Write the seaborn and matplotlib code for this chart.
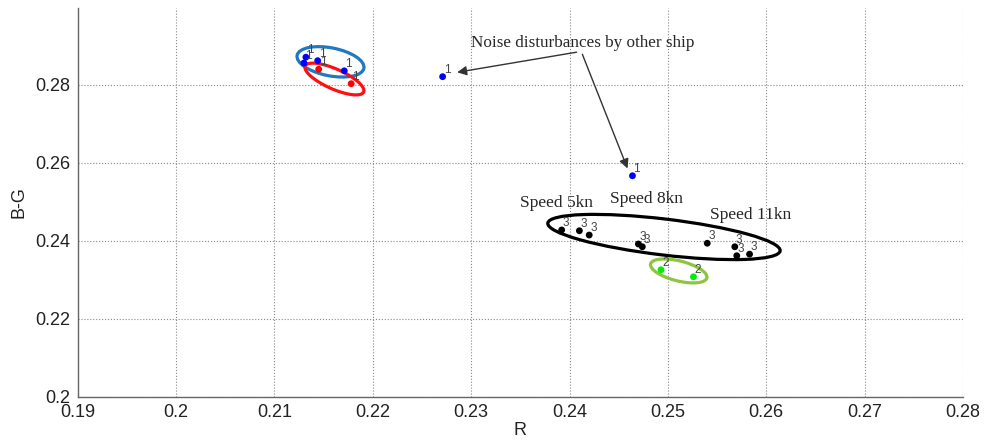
import matplotlib
matplotlib.use('Agg')
import matplotlib.pyplot as plt
import matplotlib.transforms as mtransforms
from matplotlib.patches import Ellipse
import seaborn as sns
import pandas as pd

# Data
blue_r = [0.2132, 0.2130, 0.2144, 0.2171, 0.2271, 0.2464]
blue_bg = [0.2871, 0.2856, 0.2862, 0.2836, 0.2821, 0.2567]
red_r = [0.2145, 0.2178]
red_bg = [0.2840, 0.2803]
green_r = [0.2493, 0.2526]
green_bg = [0.2326, 0.2308]
black_r = [0.2392, 0.2410, 0.2420, 0.2470, 0.2474, 0.2540, 0.2568, 0.2570, 0.2583]
black_bg = [0.2428, 0.2426, 0.2415, 0.2392, 0.2385, 0.2394, 0.2385, 0.2362, 0.2366]

groups = ['blue', 'red', 'green', 'black']
point_labels = {'blue': '1', 'red': '1', 'green': '2', 'black': '3'}
x_ticks = [0.19, 0.2, 0.21, 0.22, 0.23, 0.24, 0.25, 0.26, 0.27, 0.28]
y_ticks = [0.2, 0.22, 0.24, 0.26, 0.28]

df = pd.concat([
    pd.DataFrame({'R': blue_r, 'B-G': blue_bg, 'grp': 'blue'}),
    pd.DataFrame({'R': red_r, 'B-G': red_bg, 'grp': 'red'}),
    pd.DataFrame({'R': green_r, 'B-G': green_bg, 'grp': 'green'}),
    pd.DataFrame({'R': black_r, 'B-G': black_bg, 'grp': 'black'}),
], ignore_index=True)

sns.set_style('white')
plt.rcParams['font.family'] = ['Liberation Sans', 'DejaVu Sans']

fig = plt.figure(figsize=(9.87, 4.45), dpi=100)
ax = fig.add_axes([0.0787, 0.108, 0.897, 0.874])

palette = {'blue': '#0000ff', 'red': '#ff0000', 'green': '#00ee00', 'black': '#000000'}
sns.scatterplot(data=df, x='R', y='B-G', hue='grp', palette=palette, s=24,
                edgecolor='none', legend=False, ax=ax, zorder=3)

# little class numbers next to each point
for _, row in df.iterrows():
    ax.annotate(point_labels[row['grp']], (row['R'], row['B-G']), xytext=(1, 4),
                textcoords='offset pixels', fontsize=8.5, color='#444444')

# highlight ellipses (sizes in pixels, centred on data coords)
ellipses = [
    (0.2157, 0.2859, 68, 28, -11, '#1f78c1'),
    (0.2161, 0.2815, 64, 20, -24, '#ff1010'),
    (0.2496, 0.2410, 234, 36, -6.8, '#000000'),
    (0.2511, 0.2323, 58, 20, -14, '#8cc63e'),
]
for cx, cy, w, h, ang, col in ellipses:
    tr = mtransforms.IdentityTransform() + mtransforms.ScaledTranslation(cx, cy, ax.transData)
    ax.add_patch(Ellipse((0, 0), w, h, angle=ang, transform=tr, fill=False,
                         edgecolor=col, lw=2.3, zorder=2))

serif = ['Liberation Serif', 'DejaVu Serif']
ax.text(0.2413, 0.2908, 'Noise disturbances by other ship', ha='center', va='center',
        fontsize=12.3, family=serif)
arrow = dict(arrowstyle='-|>', color='#333333', lw=1, mutation_scale=14)
ax.annotate('', xy=(0.2283, 0.2831), xytext=(0.2410, 0.2885), arrowprops=arrow)
ax.annotate('', xy=(0.2460, 0.2579), xytext=(0.2412, 0.2885), arrowprops=arrow)
ax.text(0.2387, 0.2497, 'Speed 5kn', ha='center', va='center', fontsize=12.5, family=serif)
ax.text(0.2478, 0.2508, 'Speed 8kn', ha='center', va='center', fontsize=12.5, family=serif)
ax.text(0.2584, 0.2467, 'Speed 11kn', ha='center', va='center', fontsize=12.5, family=serif)

ax.set_xlim(0.19, 0.28)
ax.set_ylim(0.2, 0.2997)
ax.set_xticks(x_ticks)
ax.set_xticklabels([f'{t:g}' for t in x_ticks])
ax.set_yticks(y_ticks)
ax.set_yticklabels([f'{t:g}' for t in y_ticks])
ax.grid(True, linestyle=':', color='#888888', lw=0.8)
ax.tick_params(direction='in', length=5, width=0.8, color='#555555',
               labelsize=13, labelcolor='#222222', pad=5)
for side in ['top', 'right']:
    ax.spines[side].set_visible(False)
for side in ['left', 'bottom']:
    ax.spines[side].set_color('#666666')
    ax.spines[side].set_linewidth(1)
ax.set_xlabel('R', fontsize=13, color='#222222', labelpad=1)
ax.set_ylabel('B-G', fontsize=13, color='#222222', labelpad=6)

fig.savefig('out.png', dpi=100)
